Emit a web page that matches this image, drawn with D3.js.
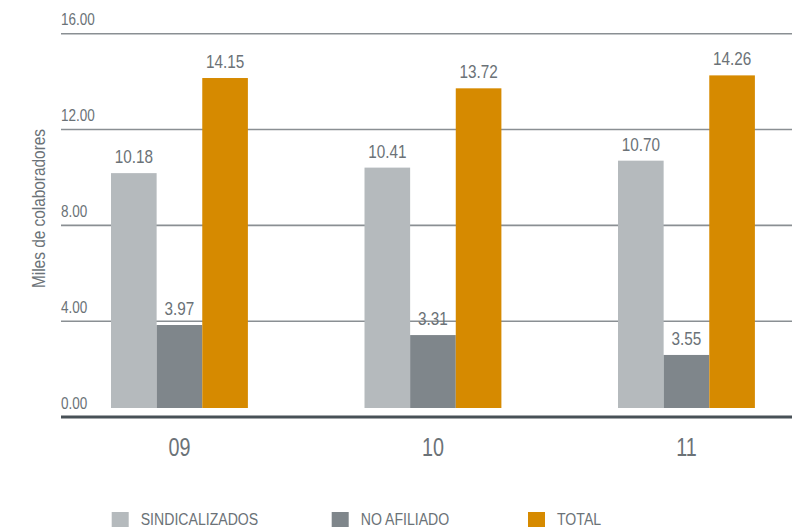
<!DOCTYPE html>
<html>
<head>
<meta charset="utf-8">
<script src="https://cdn.jsdelivr.net/npm/d3@7"></script>
<style>
  body { margin: 0; background: #fff; }
  text { font-family: "Liberation Sans", Arial, sans-serif; fill: #6b7277; }
</style>
</head>
<body>
<div id="chart"></div>
<script>
// data
var years = ["09", "10", "11"];
var seriesNames = ["SINDICALIZADOS", "NO AFILIADO", "TOTAL"];
var sindicalizados = [10.18, 10.41, 10.70];
var noAfiliado = [3.97, 3.31, 3.55];
// the grey bars in the picture are not drawn at their printed value
var noAfiliadoBar = [3.84, 3.42, 2.59];
var total = [14.15, 13.72, 14.26];
var yTicks = [0, 4, 8, 12, 16];
var colors = ["#b5babd", "#7f868b", "#d68a00"];

var svgWidth = 811;
var svgHeight = 527;

var svg = d3.select("#chart")
  .append("svg")
  .attr("width", svgWidth)
  .attr("height", svgHeight);

// condensed look: squeeze the text horizontally
function place(x, y, sx) {
  return `translate(${x}, ${y}) scale(${sx}, 1)`;
}

// scales
var yScale = d3.scaleLinear()
  .domain([0, 16])
  .range([417, 33.7]);

var xScale = d3.scaleBand()
  .domain(years)
  .range([60.3, 805.6])
  .paddingInner(0.46)
  .paddingOuter(0.2);

var xInner = d3.scaleBand()
  .domain(seriesNames)
  .range([0, xScale.bandwidth()]);

// gridlines + tick labels
var grid = svg.append("g");
grid.selectAll("line")
  .data(yTicks.filter(d => d > 0))
  .enter()
  .append("line")
  .attr("x1", 61)
  .attr("x2", 792)
  .attr("y1", d => yScale(d))
  .attr("y2", d => yScale(d))
  .attr("stroke", "#8a8f93")
  .attr("stroke-width", 1.6);

grid.selectAll("text")
  .data(yTicks)
  .enter()
  .append("text")
  .attr("transform", d => place(61, yScale(d) - 8.5, 0.82))
  .attr("font-size", 16.5)
  .text(d => d3.format(".2f")(d));

// y axis title
svg.append("text")
  .attr("transform", "translate(45, 208.5) rotate(-90) scale(0.88, 1)")
  .attr("text-anchor", "middle")
  .attr("font-size", 17.5)
  .text("Miles de colaboradores");

// build rows for bars
var rows = [];
years.forEach(function(y, i) {
  rows.push({ year: y, series: seriesNames[0], bar: sindicalizados[i], label: sindicalizados[i], color: colors[0] });
  rows.push({ year: y, series: seriesNames[1], bar: noAfiliadoBar[i], label: noAfiliado[i], color: colors[1] });
  rows.push({ year: y, series: seriesNames[2], bar: total[i], label: total[i], color: colors[2] });
});

var barBottom = yScale(0) - 9;

svg.append("g").selectAll("rect")
  .data(rows)
  .enter()
  .append("rect")
  .attr("x", d => xScale(d.year) + xInner(d.series))
  .attr("y", d => yScale(d.bar))
  .attr("width", xInner.bandwidth())
  .attr("height", d => barBottom - yScale(d.bar))
  .attr("fill", d => d.color);

svg.append("g").selectAll("text")
  .data(rows)
  .enter()
  .append("text")
  .attr("transform", d => place(xScale(d.year) + xInner(d.series) + xInner.bandwidth() / 2, yScale(d.bar) - 10, 0.85))
  .attr("text-anchor", "middle")
  .attr("font-size", 18)
  .text(d => d3.format(".2f")(d.label));

// baseline
svg.append("line")
  .attr("x1", 61)
  .attr("x2", 792)
  .attr("y1", yScale(0))
  .attr("y2", yScale(0))
  .attr("stroke", "#485157")
  .attr("stroke-width", 3);

// category labels
svg.append("g").selectAll("text")
  .data(years)
  .enter()
  .append("text")
  .attr("transform", d => place(xScale(d) + xScale.bandwidth() / 2, 456, 0.76))
  .attr("text-anchor", "middle")
  .attr("font-size", 26)
  .text(d => d);

// legend
var legendX = [111.7, 331.7, 528];
var legend = svg.append("g").selectAll("g")
  .data(seriesNames)
  .enter()
  .append("g")
  .attr("transform", (d, i) => `translate(${legendX[i]}, 0)`);

legend.append("rect")
  .attr("x", 0)
  .attr("y", 512)
  .attr("width", 17)
  .attr("height", 17)
  .attr("fill", (d, i) => colors[i]);

legend.append("text")
  .attr("transform", place(29, 524.5, 0.83))
  .attr("font-size", 17)
  .text(d => d);
</script>
</body>
</html>
